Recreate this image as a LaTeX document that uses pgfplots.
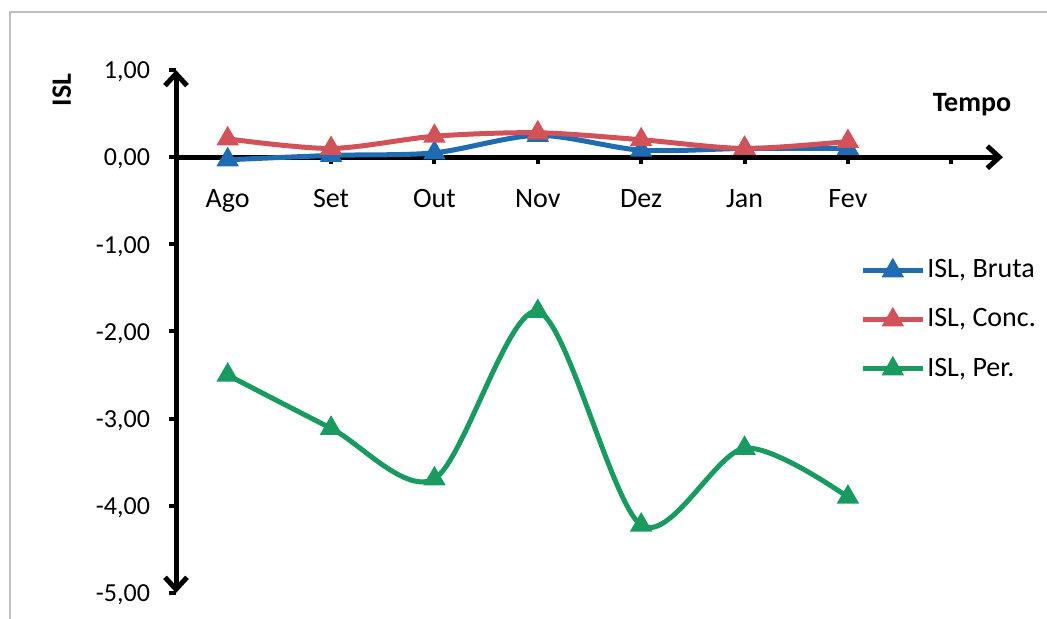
\documentclass[border=0pt]{standalone}
\usepackage{fontspec}
\setmainfont{Carlito}
\usepackage{pgfplots}
\pgfplotsset{compat=1.18}
\usetikzlibrary{arrows.meta}

\definecolor{islblue}{RGB}{31,108,178}
\definecolor{islred}{RGB}{210,82,90}
\definecolor{islgreen}{RGB}{24,154,96}

\begin{document}
\begin{tikzpicture}
\fontsize{13}{15}\selectfont
\path[use as bounding box] (0,0) rectangle (523.5pt,309.5pt);
% chart frame
\draw[gray!50, line width=0.7pt] (5pt,-3pt) -- (5pt,303.5pt) -- (530pt,303.5pt);
\begin{axis}[
  at={(88pt,13pt)}, anchor=south west,
  scale only axis, width=413.5pt, height=261.5pt,
  xmin=0.5, xmax=8.5, ymin=-5, ymax=1,
  clip mode=individual,
  axis x line=middle, axis y line=left,
  x axis line style={line width=2.5pt, -{Straight Barb[length=6pt,width=11pt]}},
  y axis line style={line width=2.5pt, {Straight Barb[length=6pt,width=11pt]}-{Straight Barb[length=6pt,width=11pt]}},
  xtick={1,...,8},
  xticklabels={Ago,Set,Out,Nov,Dez,Jan,Fev,},
  ytick={-5,-4,...,1},
  tick align=outside,
  major tick length=3.5pt,
  tick style={black, line width=2pt},
  xticklabel style={yshift=-8pt, font=\fontsize{14}{16}\selectfont},
  yticklabel style={xshift=-5pt, yshift=-1pt},
  /pgf/number format/.cd, fixed, fixed zerofill, precision=2, use comma, assume math mode=true,
  /pgfplots/.cd,
  legend style={at={(axis description cs:0.827,0.638)}, anchor=north west,
    draw=none, fill=none, row sep=13.5pt, inner sep=0pt,
    font=\fontsize{14}{16}\selectfont,
    nodes={inner xsep=1pt, inner ysep=0pt}},
  legend cell align=left,
  legend image code/.code={\draw[mark repeat=2,mark phase=2] plot coordinates {(0pt,0pt) (15pt,0pt) (30pt,0pt)};},
  every axis plot/.append style={line width=2.5pt, smooth, mark=triangle*, mark size=4pt,
    mark options={solid, line width=0.4pt}},
]
\addplot[islblue, mark options={fill=islblue}] coordinates {
  (1,-0.03) (2,0.02) (3,0.05) (4,0.25) (5,0.08) (6,0.10) (7,0.10)};
\addlegendentry{ISL, Bruta}
\addplot[islred, mark options={fill=islred}] coordinates {
  (1,0.21) (2,0.10) (3,0.24) (4,0.28) (5,0.20) (6,0.10) (7,0.18)};
\addlegendentry{ISL, Conc.}
\addplot[islgreen, mark options={fill=islgreen}] coordinates {
  (1,-2.50) (2,-3.11) (3,-3.69) (4,-1.77) (5,-4.22) (6,-3.34) (7,-3.90)};
\addlegendentry{ISL, Per.}
\node[font=\fontsize{14}{16}\selectfont\bfseries] at (axis description cs:0.9625,0.933) {Tempo};
\node[font=\fontsize{14}{16}\selectfont\bfseries, rotate=90] at (axis description cs:-0.138,0.962) {ISL};
\end{axis}
\end{tikzpicture}
\end{document}
